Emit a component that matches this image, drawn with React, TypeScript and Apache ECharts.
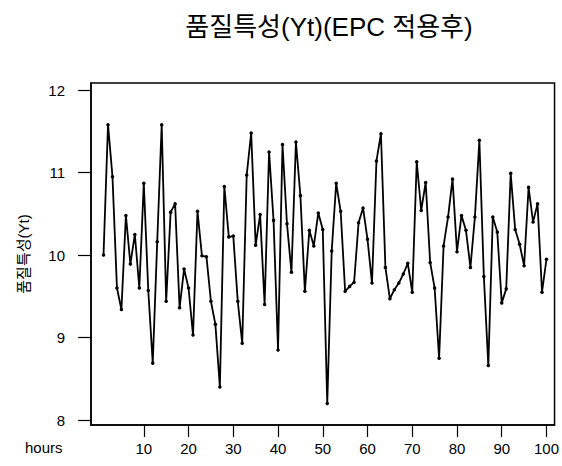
import React, { useEffect, useRef } from "react";
import * as echarts from "echarts";

const titleText = "품질특성(Yt)(EPC 적용후)";
const yName = "품질특성(Yt)";
const xName = "hours";
const xTicks = [10, 20, 30, 40, 50, 60, 70, 80, 90, 100];
const yTicks = [8, 9, 10, 11, 12];
const yt = [
  10.0, 11.58, 10.95, 9.6, 9.34, 10.48, 9.89, 10.25, 9.6, 10.87,
  9.57, 8.69, 10.16, 11.58, 9.44, 10.52, 10.62, 9.36, 9.83, 9.6,
  9.03, 10.53, 9.99, 9.98, 9.44, 9.16, 8.4, 10.83, 10.22, 10.23,
  9.44, 8.93, 10.97, 11.48, 10.12, 10.49, 9.4, 11.25, 10.42, 8.85,
  11.34, 10.38, 9.79, 11.37, 10.72, 9.56, 10.3, 10.11, 10.51, 10.31,
  8.2, 10.05, 10.87, 10.53, 9.56, 9.62, 9.67, 10.39, 10.57, 10.19,
  9.66, 11.14, 11.47, 9.85, 9.47, 9.58, 9.66, 9.77, 9.9, 9.55,
  11.13, 10.54, 10.88, 9.91, 9.6, 8.75, 10.11, 10.46, 10.92, 10.04,
  10.48, 10.3, 9.85, 10.46, 11.39, 9.74, 8.66, 10.46, 10.28, 9.42,
  9.59, 10.99, 10.31, 10.13, 9.87, 10.82, 10.4, 10.62, 9.55, 9.95,
];

const FONT = "'Liberation Sans', Arial, 'Noto Sans CJK KR', sans-serif";

export default function App() {
  const ref = useRef<HTMLDivElement>(null);
  useEffect(() => {
    if (!ref.current) return;
    document.body.style.margin = "0";
    const chart = echarts.init(ref.current, undefined, { renderer: "svg" });
    chart.setOption({
      animation: false,
      backgroundColor: "#fff",
      title: {
        text: titleText,
        left: 324,
        top: 9,
        textAlign: "center",
        textStyle: { fontFamily: FONT, fontSize: 26, fontWeight: "normal", color: "#000" },
      },
      graphic: [
        {
          type: "text",
          left: 25,
          top: 440,
          style: { text: xName, fontFamily: FONT, fontSize: 15, fill: "#000" },
        },
      ],
      grid: {
        left: 91,
        right: 6,
        top: 83,
        bottom: 41,
        show: true,
        borderColor: "#000",
        borderWidth: 1.5,
      },
      xAxis: {
        type: "value",
        min: -1.8,
        max: 101.8,
        axisLine: { show: true, onZero: false, lineStyle: { color: "#000", width: 1.5 } },
        axisTick: { show: true, length: 12, customValues: xTicks, lineStyle: { color: "#000", width: 1.2 } },
        axisLabel: {
          customValues: xTicks,
          margin: 16,
          fontFamily: FONT,
          fontSize: 15,
          color: "#000",
        },
        splitLine: { show: false },
      },
      yAxis: {
        type: "value",
        min: 7.94,
        max: 12.085,
        name: yName,
        nameLocation: "middle",
        nameGap: 60,
        nameRotate: 90,
        nameTextStyle: { fontFamily: FONT, fontSize: 15, color: "#000" },
        axisLine: { show: true, onZero: false, lineStyle: { color: "#000", width: 1.5 } },
        axisTick: { show: true, length: 13, customValues: yTicks, lineStyle: { color: "#000", width: 1.2 } },
        axisLabel: {
          customValues: yTicks,
          margin: 26,
          fontFamily: FONT,
          fontSize: 15,
          color: "#000",
        },
        splitLine: { show: false },
      },
      series: [
        {
          type: "line",
          data: yt.map((v, i) => [i + 1, v]),
          symbol: "circle",
          symbolSize: 3.5,
          showSymbol: true,
          lineStyle: { color: "#000", width: 1.8 },
          itemStyle: { color: "#000" },
        },
      ],
    });
    return () => chart.dispose();
  }, []);
  return <div ref={ref} style={{ width: 562, height: 466, position: "absolute", left: 0, top: 0 }} />;
}
